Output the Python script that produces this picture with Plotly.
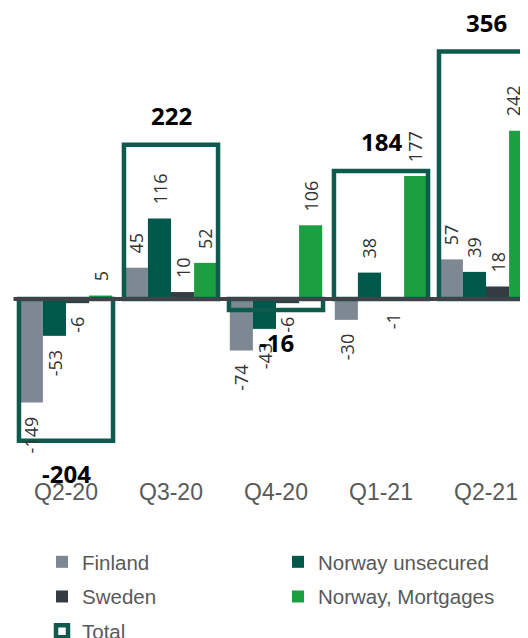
import plotly.graph_objects as go

quarters = ["Q2-20", "Q3-20", "Q4-20", "Q1-21", "Q2-21"]
finland = [-149, 45, -74, -30, 57]
norway_unsecured = [-53, 116, -43, 38, 39]
sweden = [-6, 10, -6, -1, 18]
norway_mortgages = [5, 52, 106, 177, 242]
total = [-204, 222, -16, 184, 356]

series = [
    ("Finland", finland, "#7E8893", "legend"),
    ("Norway unsecured", norway_unsecured, "#00584A", "legend2"),
    ("Sweden", sweden, "#343B42", "legend"),
    ("Norway, Mortgages", norway_mortgages, "#1C9F41", "legend2"),
]

xs = list(range(len(quarters)))
bar_w = 0.22
offsets = [-0.44, -0.22, 0.0, 0.22]
box_w = 0.896

W, H = 520, 630
px_per_unit = 0.695
zero_px = 291
plot_bottom = 468
ymax = zero_px / px_per_unit
ymin = -(plot_bottom - zero_px) / px_per_unit
xmin = -58 / 105
xmax = (W - 58) / 105
visible_right = W - 15  # keep rotated labels inside the visible page area


def to_px(xv):
    return (xv - xmin) / (xmax - xmin) * W


fig = go.Figure()
annotations = []
for (name, vals, color, leg), off in zip(series, offsets):
    fig.add_trace(go.Bar(
        x=xs, y=vals, name=name, offset=off, width=bar_w,
        marker=dict(color=color, line=dict(width=0)),
        legend=leg, legendgroup=name, hoverinfo="skip",
    ))
    for i, v in zip(xs, vals):
        xv = i + off + bar_w / 2
        xshift = min(0, visible_right - to_px(xv))
        annotations.append(dict(
            x=xv, y=v, xref="x", yref="y",
            text=str(v), textangle=-90, showarrow=False,
            yanchor="bottom" if v >= 0 else "top",
            yshift=12 if v >= 0 else -12, xshift=xshift,
            font=dict(family="Open Sans", size=18, color="#333333"),
        ))

fig.add_trace(go.Bar(
    x=xs, y=total, name="Total", offset=-box_w / 2, width=box_w,
    marker=dict(color="rgba(0,0,0,0)", line=dict(color="#0E5A4C", width=4.5)),
    legend="legend", legendgroup="Total", hoverinfo="skip", cliponaxis=False,
))
for i, v in zip(xs, total):
    annotations.append(dict(
        x=i, y=v, xref="x", yref="y", text="<b>%d</b>" % v, showarrow=False,
        yanchor="bottom" if v >= 0 else "top",
        yshift=11 if v >= 0 else -14,
        font=dict(family="Open Sans", size=24, color="#000000"),
    ))

fig.add_shape(type="line", xref="x", yref="y", x0=-0.5, x1=4.6, y0=0, y1=0,
              line=dict(color="#3F4347", width=4), layer="above")

legend_top = 534
legend_y = -(legend_top - plot_bottom) / plot_bottom
legend_font = dict(family="Liberation Sans", size=20.5, color="#595959")
fig.update_layout(
    width=W, height=H,
    margin=dict(l=0, r=0, t=0, b=H - plot_bottom, autoexpand=False),
    paper_bgcolor="white", plot_bgcolor="white",
    barmode="overlay",
    showlegend=True,
    xaxis=dict(range=[xmin, xmax], tickvals=xs, ticktext=quarters, showgrid=False,
               zeroline=False, showline=False, ticks="", automargin=False,
               tickfont=dict(family="Liberation Sans", size=23, color="#595959")),
    yaxis=dict(range=[ymin, ymax], visible=False, showgrid=False, zeroline=False),
    legend=dict(orientation="v", x=34 / W, xanchor="left", y=legend_y,
                yanchor="top", font=legend_font, tracegroupgap=5, bgcolor="rgba(0,0,0,0)"),
    legend2=dict(orientation="v", x=270 / W, xanchor="left", y=legend_y,
                 yanchor="top", font=legend_font, tracegroupgap=5, bgcolor="rgba(0,0,0,0)"),
    annotations=annotations,
)

fig.write_html("out.html")
